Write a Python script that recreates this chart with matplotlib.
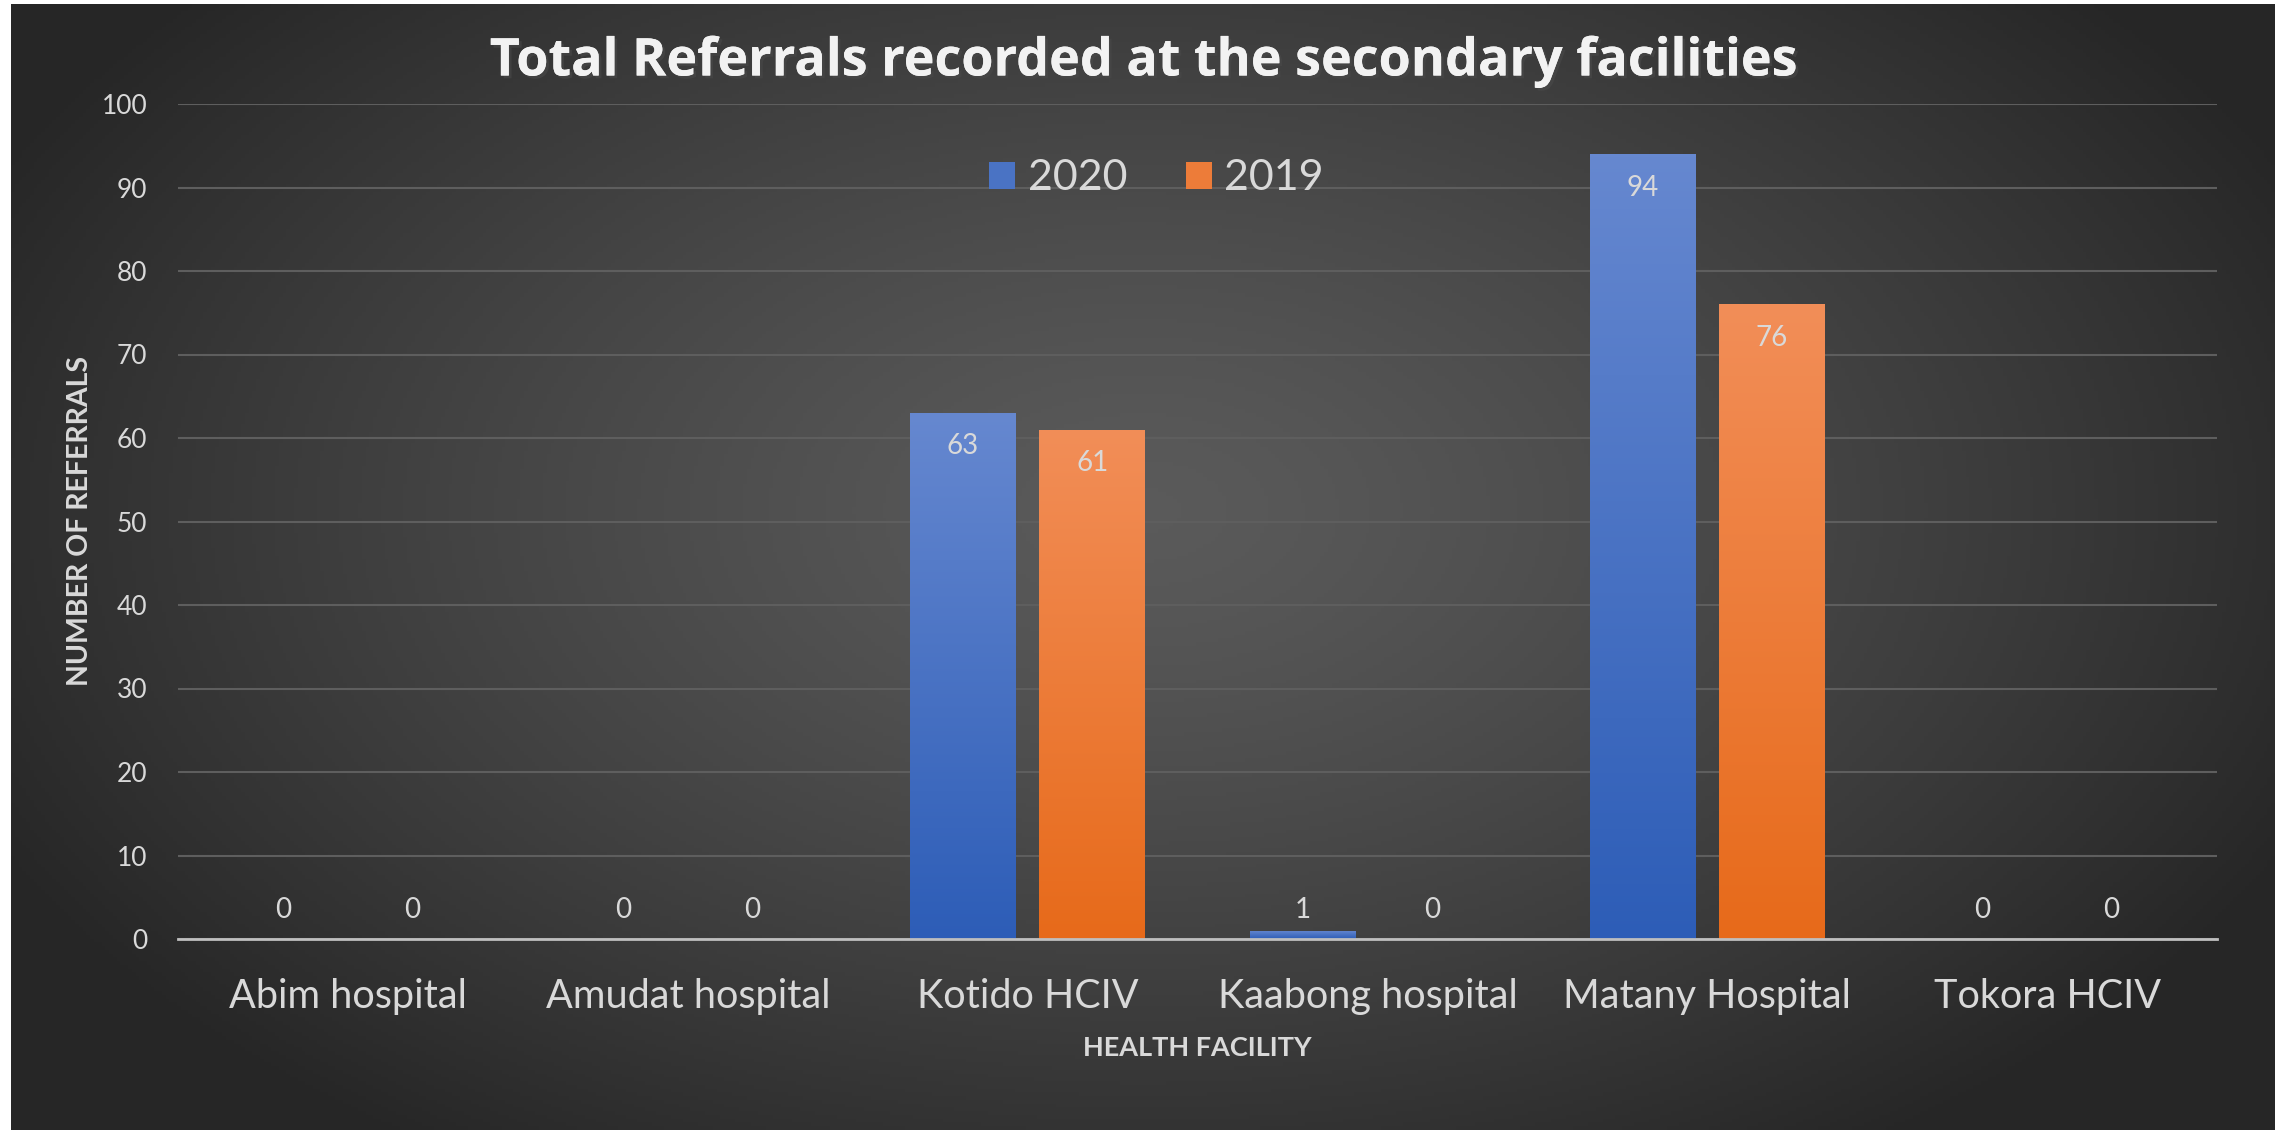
import numpy as np
import matplotlib.pyplot as plt
import matplotlib.patheffects as pe
from matplotlib.colors import LinearSegmentedColormap

facilities = ["Abim hospital", "Amudat hospital", "Kotido HCIV",
              "Kaabong hospital", "Matany Hospital", "Tokora HCIV"]
referrals_2020 = [0, 0, 63, 1, 94, 0]
referrals_2019 = [0, 0, 61, 0, 76, 0]
series_names = ["2020", "2019"]
yticks = list(range(0, 101, 10))

W, H = 2290, 1130
fig = plt.figure(figsize=(W / 100, H / 100), dpi=100, facecolor="white")
plt.rcParams["font.family"] = ["Lato", "DejaVu Sans"]

# dark radial gradient background (white strip on left/top/right)
bg = fig.add_axes([11 / W, 0, (2275 - 11) / W, (H - 4) / H])
bg.set_axis_off()
yy, xx = np.mgrid[0:1:300j, 0:1:600j]
r = np.sqrt(((xx - 0.5) / 0.62) ** 2 + ((yy - 0.45) / 0.75) ** 2)
shade = np.clip(0.355 - 0.23 * r ** 1.3, 0.15, 0.36)
bg.imshow(np.dstack([shade] * 3), extent=[0, 1, 0, 1], aspect="auto")
bg.set_xlim(0, 1)
bg.set_ylim(0, 1)

ax = fig.add_axes([178 / W, 1 - 939 / H, (2217 - 178) / W, (939 - 104) / H])
ax.patch.set_alpha(0)

x = np.arange(len(facilities))
bw = 0.31
off = 0.19
blue_cm = LinearSegmentedColormap.from_list("b", ["#2d5db7", "#6688d0"])
orange_cm = LinearSegmentedColormap.from_list("o", ["#e76a1a", "#f28e58"])

for vals, sign, cm, name in [(referrals_2020, -1, blue_cm, series_names[0]),
                             (referrals_2019, 1, orange_cm, series_names[1])]:
    bars = ax.bar(x + sign * off, vals, bw, color=cm(0.5), label=name, zorder=3)
    for b, v in zip(bars, vals):
        if v > 0:
            grad = np.linspace(0, 1, 256).reshape(-1, 1)
            im = ax.imshow(grad, cmap=cm, origin="lower", aspect="auto",
                           extent=[b.get_x(), b.get_x() + b.get_width(), 0, v],
                           zorder=3.5)
            im.set_clip_path(b)
        ax.text(b.get_x() + b.get_width() / 2, max(v - 4, 3.5), str(v),
                ha="center", va="center", fontsize=20, color="#d9d9d9", zorder=5)

ax.set_xlim(-0.5, len(facilities) - 0.5)
ax.set_ylim(0, 100)
ax.set_yticks(yticks)
ax.set_xticks(x)
ax.set_xticklabels(facilities, fontsize=28.5, color="#d9d9d9")
ax.tick_params(axis="y", labelsize=19, colors="#d9d9d9", length=0, pad=22)
ax.tick_params(axis="x", length=0, pad=28)
ax.grid(axis="y", color="#5e5e5e", linewidth=1.5, zorder=0)
for s in ["top", "right", "left"]:
    ax.spines[s].set_visible(False)
ax.spines["bottom"].set_color("#bfbfbf")
ax.spines["bottom"].set_linewidth(2)
ax.spines["bottom"].set_zorder(6)

ax.set_xlabel("HEALTH FACILITY", fontsize=19.5, fontweight="bold",
              color="#d9d9d9", labelpad=15)
ax.set_ylabel("NUMBER OF REFERRALS", fontsize=20.5, fontweight="bold",
              color="#d9d9d9", labelpad=6)

leg = ax.legend(loc="upper center", bbox_to_anchor=(0.48, 0.98), ncol=2,
                frameon=False, fontsize=31, labelcolor="#d9d9d9",
                handlelength=0.6, handleheight=0.6, handletextpad=0.3,
                columnspacing=1.35)

t = fig.text(0.5, 1 - 62 / H, "Total Referrals recorded at the secondary facilities",
             ha="center", va="center", fontsize=37.5, fontweight="bold",
             color="#f2f2f2", family=["Open Sans", "DejaVu Sans"])
t.set_path_effects([pe.withSimplePatchShadow(offset=(2, -2), alpha=0.6), pe.Normal()])

fig.savefig("out.png", dpi=100, facecolor="white")
